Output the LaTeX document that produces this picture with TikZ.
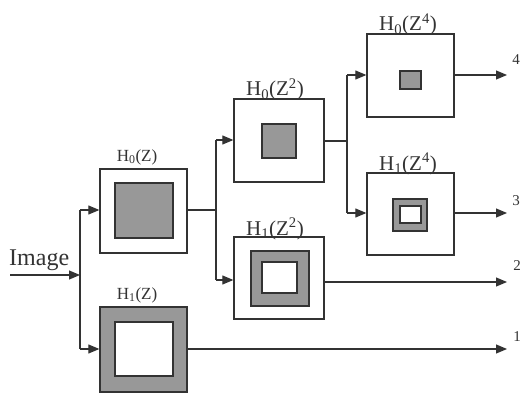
\documentclass[tikz,border=0pt]{standalone}
\usepackage{fontspec}
\setmainfont{Liberation Serif}
\usetikzlibrary{arrows.meta}
\definecolor{lc}{HTML}{333333}
\definecolor{fg}{HTML}{989898}
\tikzset{
  outer/.style={draw=lc, line width=1.3pt, inner sep=0pt, fill=white},
  inner/.style={draw=lc, line width=1.3pt, inner sep=0pt},
  conn/.style={draw=lc, line width=1.1pt},
  arr/.style={conn, -{Triangle[length=11pt,width=9pt]}},
  lab/.style={inner sep=0pt, text=lc},
}
\begin{document}
\begin{tikzpicture}[x=1pt,y=-1pt]
\useasboundingbox (0,0) rectangle (522,393);
% boxes
\node[outer, minimum width=87pt, minimum height=84pt] (A) at (143.5,211) {};
\node[inner, fill=fg, minimum width=58pt, minimum height=55pt] (Ai) at (144,210.5) {};
\node[outer, fill=fg, minimum width=87pt, minimum height=85pt] (B) at (143.5,349.5) {};
\node[inner, fill=white, minimum width=58pt, minimum height=54pt] (Bi) at (144,349) {};
\node[outer, minimum width=90pt, minimum height=83pt] (C) at (279,140.5) {};
\node[inner, fill=fg, minimum width=34pt, minimum height=34pt] (Ci) at (279,141) {};
\node[outer, minimum width=90pt, minimum height=82pt] (D) at (279,278) {};
\node[inner, fill=fg, minimum width=58pt, minimum height=55pt] (Di) at (280,278.5) {};
\node[inner, fill=white, minimum width=35pt, minimum height=31pt] (Dii) at (279.5,277.5) {};
\node[outer, minimum width=87pt, minimum height=83pt] (E) at (410.5,75.5) {};
\node[inner, fill=fg, minimum width=21pt, minimum height=18pt] (Ei) at (410.5,80) {};
\node[outer, minimum width=87pt, minimum height=82pt] (F) at (410.5,214) {};
\node[inner, fill=fg, minimum width=34pt, minimum height=32pt] (Fi) at (410,215) {};
\node[inner, fill=white, minimum width=21pt, minimum height=17pt] (Fii) at (410.5,214.5) {};
% labels
\node[lab, anchor=base, font=\fontsize{17}{20}\selectfont] (lA) at (137,161) {H\textsubscript{0}(Z)};
\node[lab, anchor=base, font=\fontsize{17}{20}\selectfont] (lB) at (137,299) {H\textsubscript{1}(Z)};
\node[lab, anchor=base, font=\fontsize{21}{24}\selectfont] (lC) at (275,96) {H\textsubscript{0}(Z\textsuperscript{2})};
\node[lab, anchor=base, font=\fontsize{21}{24}\selectfont] (lD) at (275,235) {H\textsubscript{1}(Z\textsuperscript{2})};
\node[lab, anchor=base, font=\fontsize{21}{24}\selectfont] (lE) at (408,31) {H\textsubscript{0}(Z\textsuperscript{4})};
\node[lab, anchor=base, font=\fontsize{21}{24}\selectfont] (lF) at (408,170) {H\textsubscript{1}(Z\textsuperscript{4})};
\node[lab, anchor=base west, font=\fontsize{24}{28}\selectfont] (img) at (9,265) {Image};
\node[lab, anchor=base, font=\fontsize{15}{18}\selectfont] (n4) at (516,65) {4};
\node[lab, anchor=base, font=\fontsize{15}{18}\selectfont] (n3) at (516,205) {3};
\node[lab, anchor=base, font=\fontsize{15}{18}\selectfont] (n2) at (517,270) {2};
\node[lab, anchor=base, font=\fontsize{15}{18}\selectfont] (n1) at (517,341) {1};
% junctions
\coordinate (in) at (10,275);
\coordinate (j1) at (80,275);
\coordinate (j1t) at (80,210);
\coordinate (j1b) at (80,349);
\coordinate (j2) at (216,210);
\coordinate (j2t) at (216,140);
\coordinate (j2b) at (216,280);
\coordinate (j3) at (347,141);
\coordinate (j3t) at (347,75);
\coordinate (j3b) at (347,213);
\coordinate (o4) at (507,75);
\coordinate (o3) at (507,213);
\coordinate (o2) at (507,282);
\coordinate (o1) at (507,349);
% connectors
\draw[arr] (in) -- (j1);
\draw[conn] (j1t) -- (j1b);
\draw[arr] (j1t) -- (A.west |- j1t);
\draw[arr] (j1b) -- (B.west |- j1b);
\draw[conn] (A.east |- j2) -- (j2);
\draw[conn] (j2t) -- (j2b);
\draw[arr] (j2t) -- (C.west |- j2t);
\draw[arr] (j2b) -- (D.west |- j2b);
\draw[conn] (C.east |- j3) -- (j3);
\draw[conn] (j3t) -- (j3b);
\draw[arr] (j3t) -- (E.west |- j3t);
\draw[arr] (j3b) -- (F.west |- j3b);
\draw[arr] (E.east |- o4) -- (o4);
\draw[arr] (F.east |- o3) -- (o3);
\draw[arr] (D.east |- o2) -- (o2);
\draw[arr] (B.east |- o1) -- (o1);
\end{tikzpicture}
\end{document}
